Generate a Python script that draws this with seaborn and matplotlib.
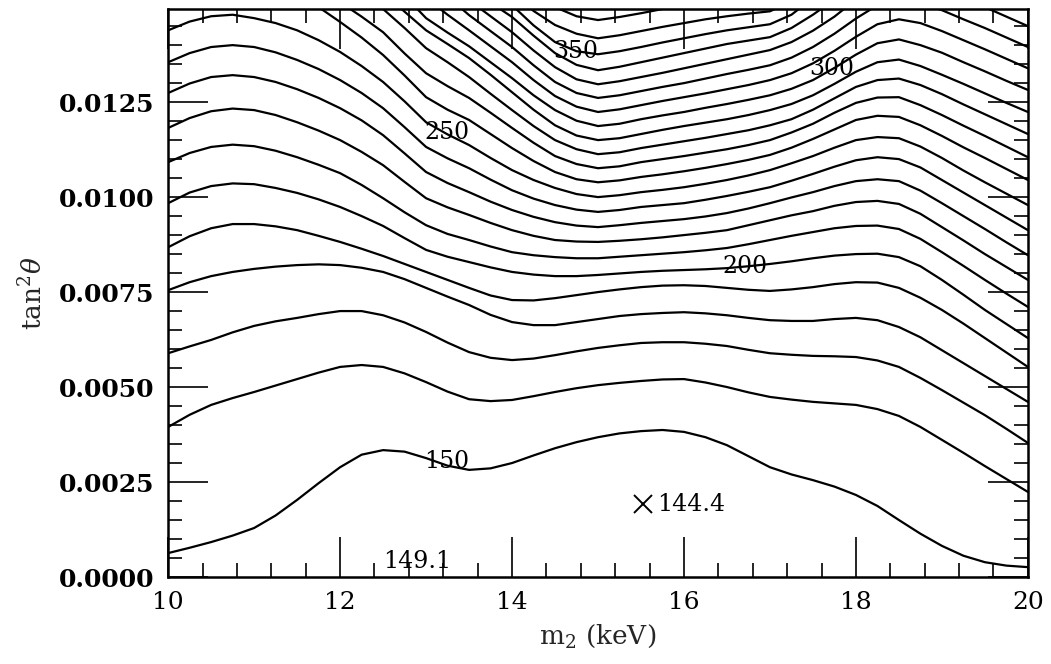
import numpy as np
import pandas as pd
import matplotlib
matplotlib.use("Agg")
import matplotlib.pyplot as plt
import seaborn as sns
from matplotlib.ticker import MultipleLocator, FormatStrFormatter

# ─────────────────────────────────────────────
# DATA  (tan^2 theta in units of 1e-3)
# ─────────────────────────────────────────────
m2 = [10.0, 10.25, 10.5, 10.75, 11.0, 11.25, 11.5, 11.75, 12.0, 12.25,
      12.5, 12.75, 13.0, 13.25, 13.5, 13.75, 14.0, 14.25, 14.5, 14.75,
      15.0, 15.25, 15.5, 15.75, 16.0, 16.25, 16.5, 16.75, 17.0, 17.25,
      17.5, 17.75, 18.0, 18.25, 18.5, 18.75, 19.0, 19.25, 19.5, 19.75, 20.0]
nan = np.nan

chi150 = [0.63, 0.77, 0.92, 1.09, 1.29, 1.62, 2.03, 2.47, 2.89, 3.22,
          3.34, 3.30, 3.13, 2.93, 2.82, 2.86, 3.00, 3.20, 3.39, 3.55,
          3.68, 3.78, 3.84, 3.87, 3.82, 3.68, 3.47, 3.18, 2.89, 2.70,
          2.55, 2.38, 2.16, 1.87, 1.50, 1.14, 0.82, 0.56, 0.39, 0.30, 0.26]
chi160 = [3.95, 4.27, 4.53, 4.71, 4.87, 5.04, 5.21, 5.38, 5.53, 5.58,
          5.53, 5.36, 5.13, 4.88, 4.68, 4.63, 4.66, 4.76, 4.87, 4.97,
          5.05, 5.11, 5.16, 5.20, 5.21, 5.12, 5.00, 4.86, 4.74, 4.67,
          4.61, 4.57, 4.53, 4.42, 4.24, 3.95, 3.61, 3.27, 2.92, 2.58, 2.24]
chi170 = [5.89, 6.07, 6.24, 6.44, 6.61, 6.73, 6.82, 6.92, 7.00, 7.00,
          6.89, 6.70, 6.45, 6.17, 5.92, 5.77, 5.71, 5.75, 5.84, 5.94,
          6.03, 6.10, 6.16, 6.18, 6.18, 6.14, 6.08, 5.98, 5.89, 5.85,
          5.82, 5.81, 5.79, 5.70, 5.53, 5.24, 4.92, 4.59, 4.26, 3.90, 3.53]
chi180 = [7.55, 7.76, 7.92, 8.03, 8.11, 8.17, 8.21, 8.23, 8.21, 8.14,
          8.03, 7.84, 7.61, 7.38, 7.16, 6.90, 6.71, 6.63, 6.63, 6.71,
          6.79, 6.87, 6.92, 6.95, 6.97, 6.94, 6.89, 6.82, 6.76, 6.74,
          6.74, 6.79, 6.82, 6.76, 6.58, 6.31, 5.97, 5.63, 5.29, 4.95, 4.61]
chi190 = [8.68, 8.97, 9.18, 9.29, 9.29, 9.23, 9.13, 8.98, 8.82, 8.64,
          8.45, 8.24, 8.03, 7.82, 7.61, 7.41, 7.29, 7.28, 7.34, 7.42,
          7.50, 7.57, 7.63, 7.67, 7.68, 7.66, 7.61, 7.56, 7.53, 7.57,
          7.63, 7.71, 7.76, 7.75, 7.61, 7.35, 7.03, 6.67, 6.29, 5.91, 5.53]
chi200 = [9.84, 10.12, 10.29, 10.36, 10.34, 10.24, 10.11, 9.94, 9.74, 9.50,
          9.24, 8.92, 8.61, 8.43, 8.29, 8.15, 8.03, 7.96, 7.92, 7.92,
          7.95, 7.99, 8.03, 8.06, 8.08, 8.10, 8.13, 8.18, 8.24, 8.31,
          8.39, 8.46, 8.50, 8.51, 8.42, 8.18, 7.82, 7.43, 7.03, 6.66, 6.29]
chi210 = [10.92, 11.16, 11.32, 11.38, 11.34, 11.22, 11.05, 10.85, 10.63, 10.32,
          9.97, 9.60, 9.26, 9.03, 8.87, 8.70, 8.55, 8.47, 8.42, 8.39,
          8.39, 8.43, 8.47, 8.51, 8.55, 8.60, 8.66, 8.76, 8.87, 8.98,
          9.08, 9.18, 9.24, 9.25, 9.16, 8.90, 8.55, 8.19, 7.82, 7.46, 7.11]
chi220 = [11.82, 12.08, 12.26, 12.33, 12.29, 12.16, 11.97, 11.75, 11.50, 11.19,
          10.84, 10.40, 9.97, 9.73, 9.53, 9.32, 9.13, 8.98, 8.87, 8.83,
          8.82, 8.85, 8.89, 8.94, 9.00, 9.06, 9.13, 9.26, 9.39, 9.52,
          9.63, 9.77, 9.87, 9.90, 9.82, 9.56, 9.21, 8.86, 8.50, 8.16, 7.82]
chi230 = [12.74, 12.99, 13.16, 13.21, 13.16, 13.03, 12.84, 12.61, 12.34, 12.02,
          11.63, 11.15, 10.66, 10.37, 10.13, 9.88, 9.66, 9.48, 9.34, 9.25,
          9.21, 9.26, 9.32, 9.37, 9.42, 9.49, 9.58, 9.70, 9.84, 9.99,
          10.13, 10.29, 10.42, 10.47, 10.42, 10.17, 9.84, 9.50, 9.16, 8.81, 8.47]
chi240 = [13.55, 13.79, 13.95, 14.00, 13.95, 13.81, 13.61, 13.37, 13.08, 12.74,
          12.34, 11.84, 11.32, 11.02, 10.76, 10.46, 10.18, 9.96, 9.79, 9.67,
          9.61, 9.66, 9.74, 9.79, 9.84, 9.93, 10.03, 10.14, 10.26, 10.43,
          10.61, 10.80, 10.97, 11.05, 11.00, 10.78, 10.45, 10.12, 9.79, 9.46, 9.13]
chi250 = [14.39, 14.62, 14.76, 14.80, 14.71, 14.58, 14.39, 14.13, 13.82, 13.45,
          13.03, 12.52, 11.97, 11.65, 11.37, 11.03, 10.71, 10.45, 10.24, 10.08,
          10.00, 10.05, 10.13, 10.19, 10.26, 10.35, 10.45, 10.57, 10.71, 10.89,
          11.08, 11.30, 11.50, 11.58, 11.55, 11.33, 11.03, 10.70, 10.39, 10.09, 9.79]
chi260 = [15.24, 15.45, 15.55, 15.58, 15.50, 15.45, 15.32, 15.00, 14.61, 14.20,
          13.74, 13.20, 12.63, 12.30, 12.03, 11.66, 11.29, 10.95, 10.66, 10.47,
          10.39, 10.44, 10.53, 10.60, 10.68, 10.77, 10.87, 10.98, 11.11, 11.30,
          11.53, 11.78, 12.03, 12.14, 12.11, 11.89, 11.61, 11.31, 11.03, 10.74, 10.45]
chi270 = [15.97, 16.20, 16.34, 16.35, 16.29, 16.20, 15.97, 15.60, 15.13, 14.75,
          14.34, 13.78, 13.26, 12.92, 12.61, 12.22, 11.82, 11.43, 11.08, 10.87,
          10.76, 10.81, 10.92, 11.00, 11.08, 11.17, 11.26, 11.37, 11.50, 11.70,
          11.93, 12.22, 12.48, 12.62, 12.63, 12.42, 12.16, 11.88, 11.61, 11.33, 11.05]
chi280 = [16.76, 16.98, 17.13, 17.15, 17.08, 16.95, 16.71, 16.25, 15.71, 15.33,
          14.95, 14.45, 13.92, 13.55, 13.16, 12.72, 12.29, 11.87, 11.50, 11.26,
          11.13, 11.18, 11.29, 11.38, 11.47, 11.56, 11.66, 11.76, 11.89, 12.05,
          12.30, 12.60, 12.90, 13.08, 13.12, 12.95, 12.71, 12.44, 12.18, 11.92, 11.66]
chi290 = [nan] * 8 + [16.24, 15.80, 15.39, 14.88, 14.39, 14.03, 13.66, 13.22,
                      12.76, 12.30, 11.89, 11.62, 11.50, 11.55, 11.66, 11.77,
                      11.87, 11.96, 12.05, 12.16, 12.29, 12.45, 12.68, 12.98,
                      13.30, 13.55, 13.62, 13.45, 13.22, 12.98, 12.73, 12.48, 12.24]
chi300 = [nan] * 10 + [15.97, 15.30, 14.71, 14.33, 13.97, 13.55, 13.13, 12.68,
                       12.29, 12.01, 11.87, 11.93, 12.05, 12.15, 12.24, 12.35,
                       12.45, 12.56, 12.68, 12.85, 13.08, 13.40, 13.75, 14.05,
                       14.15, 14.00, 13.80, 13.55, 13.31, 13.06, 12.82]
chi310 = [nan] * 10 + [16.50, 15.85, 15.24, 14.80, 14.39, 13.97, 13.55, 13.08,
                       12.66, 12.38, 12.24, 12.31, 12.42, 12.53, 12.63, 12.73,
                       12.84, 12.95, 13.08, 13.26, 13.52, 13.85, 14.22, 14.55,
                       14.68, 14.58, 14.37, 14.13, 13.89, 13.64, 13.39]
chi320 = [nan] * 12 + [15.84, 15.28, 14.79, 14.37, 13.95, 13.47, 13.03, 12.74,
                       12.61, 12.68, 12.79, 12.90, 13.00, 13.12, 13.24, 13.35,
                       13.47, 13.67, 13.95, 14.30, 14.70, 15.05, 15.20, 15.10,
                       14.92, 14.68, 14.45, 14.20, 13.95]
chi330 = [nan] * 12 + [16.24, 15.70, 15.18, 14.76, 14.34, 13.86, 13.42, 13.10,
                       12.97, 13.05, 13.16, 13.27, 13.39, 13.51, 13.63, 13.75,
                       13.87, 14.08, 14.38, 14.75, 15.20, 15.55, 15.70, 15.60,
                       15.45, 15.22, 15.00, 14.75, 14.50]
chi340 = [nan] * 14 + [15.50, 15.12, 14.74, 14.25, 13.79, 13.48, 13.34, 13.43,
                       13.55, 13.67, 13.79, 13.91, 14.03, 14.12, 14.21, 14.45,
                       14.80, 15.20, 15.70, 16.00] + [nan] * 7
chi350 = [nan] * 14 + [15.97, 15.50, 15.05, 14.52, 14.08, 13.84, 13.76, 13.84,
                       13.95, 14.07, 14.18, 14.29, 14.39, 14.47, 14.55, 14.80,
                       15.24, 15.70] + [nan] * 9
chi360 = [nan] * 15 + [15.80, 15.39, 14.90, 14.53, 14.30, 14.18, 14.26, 14.37,
                       14.48, 14.58, 14.68, 14.76, 14.83, 14.89, 15.15,
                       15.58] + [nan] * 10
chi370 = [nan] * 16 + [15.84, 15.35, 15.00, 14.76, 14.66, 14.74, 14.84, 14.95,
                       15.05, 15.20] + [nan] * 15

contours = [(150, chi150), (160, chi160), (170, chi170), (180, chi180),
            (190, chi190), (200, chi200), (210, chi210), (220, chi220),
            (230, chi230), (240, chi240), (250, chi250), (260, chi260),
            (270, chi270), (280, chi280), (290, chi290), (300, chi300),
            (310, chi310), (320, chi320), (330, chi330), (340, chi340),
            (350, chi350), (360, chi360), (370, chi370)]

# contour labels (m2, tan^2 in 1e-3)
label_text = ["150", "200", "250", "300", "350", "149.1"]
label_x = [13.24, 16.71, 13.24, 17.72, 14.74, 12.90]
label_y = [3.03, 8.16, 11.70, 13.39, 13.84, 0.42]

best_x, best_y, best_chi = 15.52, 1.92, "144.4"

# ─────────────────────────────────────────────
# BUILD TABLE
# ─────────────────────────────────────────────
rows = []
for lev, vals in contours:
    for x, v in zip(m2, vals):
        rows.append({"m2": x, "tan2": v * 1e-3, "level": lev})
df = pd.DataFrame(rows).dropna()

# ─────────────────────────────────────────────
# PLOT
# ─────────────────────────────────────────────
sns.set_theme(style="ticks")
plt.rcParams["font.family"] = ["DejaVu Serif"]
plt.rcParams["mathtext.fontset"] = "dejavuserif"

fig = plt.figure(figsize=(10.51, 6.64), dpi=100)
ax = fig.add_axes([0.16, 0.131, 0.818, 0.8554])

sns.lineplot(data=df, x="m2", y="tan2", units="level", estimator=None,
             sort=False, color="black", lw=1.6, ax=ax, legend=False)

for t, x, y in zip(label_text, label_x, label_y):
    ax.text(x, y * 1e-3, t, ha="center", va="center", fontsize=17, color="black")

ax.plot([best_x], [best_y * 1e-3], marker="x", color="black", ms=13, mew=1.4)
ax.text(best_x + 0.17, best_y * 1e-3, best_chi, ha="left", va="center",
        fontsize=17, color="black")

ax.set_xlim(10, 20)
ax.set_ylim(0, 0.01495)
ax.xaxis.set_major_locator(MultipleLocator(2))
ax.xaxis.set_minor_locator(MultipleLocator(0.4))
ax.yaxis.set_major_locator(MultipleLocator(0.0025))
ax.yaxis.set_minor_locator(MultipleLocator(0.0005))
ax.yaxis.set_major_formatter(FormatStrFormatter("%.4f"))

ax.tick_params(which="both", direction="in", top=True, right=True,
               labelsize=18, colors="black")
ax.tick_params(which="major", length=29, width=1.2, pad=10)
ax.tick_params(which="minor", length=10, width=1.2)
for lab in ax.get_yticklabels():
    lab.set_fontweight("bold")
for s in ax.spines.values():
    s.set_linewidth(1.8)
    s.set_color("black")

ax.set_xlabel(r"$\mathrm{m_2}$ (keV)", fontsize=19, labelpad=6)
ax.set_ylabel(r"$\mathrm{tan^2}\theta$", fontsize=19, labelpad=8)

fig.savefig("out.png", dpi=100)
